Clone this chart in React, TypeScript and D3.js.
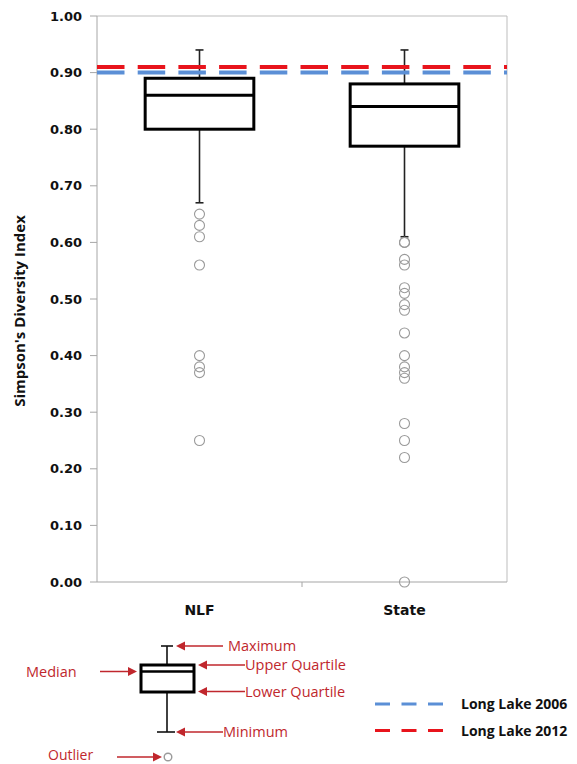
import React from "react";
import * as d3 from "d3";

const categories = ["NLF", "State"];
const mins = [0.67, 0.61];
const q1s = [0.8, 0.77];
const medians = [0.86, 0.84];
const q3s = [0.89, 0.88];
const maxs = [0.94, 0.94];
const outliersNLF = [0.65, 0.63, 0.61, 0.56, 0.4, 0.38, 0.37, 0.25];
const outliersState = [0.6, 0.6, 0.57, 0.56, 0.52, 0.51, 0.49, 0.48, 0.44, 0.4, 0.38, 0.37, 0.36, 0.28, 0.25, 0.22, 0.0];
const outliers = [outliersNLF, outliersState];
const refLabels = ["Long Lake 2006", "Long Lake 2012"];
const refValues = [0.9, 0.91];
const refColors = ["#5b8fd6", "#e8141c"];
const yTicks = [0, 0.1, 0.2, 0.3, 0.4, 0.5, 0.6, 0.7, 0.8, 0.9, 1.0];

const W = 577;
const H = 764;
const left = 97;
const right = 507;
const top = 16;
const bottom = 582;
const annRed = "#c0272d";
const axisGray = "#a6a6a6";

function Arrow({ x1, x2, y }: { x1: number; x2: number; y: number }) {
  const dir = x2 > x1 ? 1 : -1;
  const hl = 9;
  const hw = 4.5;
  return (
    <g>
      <line x1={x1} y1={y} x2={x2 - dir * hl} y2={y} stroke={annRed} strokeWidth={1.5} />
      <path d={`M${x2},${y} L${x2 - dir * hl},${y - hw} L${x2 - dir * hl},${y + hw} Z`} fill={annRed} />
    </g>
  );
}

export default function App() {
  const y = d3.scaleLinear().domain([0, 1]).range([bottom, top]);
  const x = d3.scaleBand<string>().domain(categories).range([left, right]).padding(0);
  const bw = x.bandwidth() * 0.53;
  const fmt = d3.format(".2f");
  const tickFont = "'DejaVu Sans', sans-serif";
  const annFont = "'Open Sans', sans-serif";

  return (
    <svg width={W} height={H} style={{ position: "absolute", left: 0, top: 0, background: "#fff" }}>
      <defs>
        <clipPath id="plotClip">
          <rect x={left} y={top - 5} width={right - left} height={bottom - top + 10} />
        </clipPath>
      </defs>
      <line x1={left} y1={top} x2={right} y2={top} stroke="#bdbdbd" strokeWidth={1} />
      <line x1={right} y1={top} x2={right} y2={bottom} stroke="#bdbdbd" strokeWidth={1} />
      <line x1={left} y1={top} x2={left} y2={bottom} stroke={axisGray} strokeWidth={1} />
      <line x1={left} y1={bottom} x2={right} y2={bottom} stroke={axisGray} strokeWidth={1.2} />
      {yTicks.map((t) => (
        <g key={t}>
          <line x1={left - 7} x2={left} y1={y(t)} y2={y(t)} stroke={axisGray} strokeWidth={1} />
          <text x={82} y={y(t)} dy="0.36em" textAnchor="end" fontFamily={tickFont} fontWeight="bold" fontSize={13} fill="#111">
            {fmt(t)}
          </text>
        </g>
      ))}
      {x.domain().slice(1).map((c) => (
        <line key={c} x1={x(c)!} x2={x(c)!} y1={bottom} y2={bottom + 5} stroke={axisGray} strokeWidth={1} />
      ))}
      {categories.map((c) => (
        <text key={c} x={x(c)! + x.bandwidth() / 2} y={615} textAnchor="middle" fontFamily={tickFont} fontWeight="bold" fontSize={14} fill="#111">
          {c}
        </text>
      ))}
      <text
        transform={`translate(25, 311) rotate(-90)`}
        textAnchor="middle"
        fontFamily={annFont}
        fontWeight="bold"
        fontSize={15}
        fill="#111"
      >
        Simpson's Diversity Index
      </text>

      {categories.map((c, i) => {
        const cx = x(c)! + x.bandwidth() / 2;
        return (
          <g key={c}>
            <line x1={cx} x2={cx} y1={y(maxs[i])} y2={y(q3s[i])} stroke="#222" strokeWidth={1.6} />
            <line x1={cx} x2={cx} y1={y(q1s[i])} y2={y(mins[i])} stroke="#222" strokeWidth={1.6} />
            <line x1={cx - 4} x2={cx + 4} y1={y(maxs[i])} y2={y(maxs[i])} stroke="#222" strokeWidth={1.6} />
            <line x1={cx - 4} x2={cx + 4} y1={y(mins[i])} y2={y(mins[i])} stroke="#222" strokeWidth={1.6} />
            <rect x={cx - bw / 2} y={y(q3s[i])} width={bw} height={y(q1s[i]) - y(q3s[i])} fill="#fff" stroke="#000" strokeWidth={3} />
            <line x1={cx - bw / 2} x2={cx + bw / 2} y1={y(medians[i])} y2={y(medians[i])} stroke="#000" strokeWidth={3} />
            {outliers[i].map((v, j) => (
              <circle key={j} cx={cx} cy={y(v)} r={5} fill="none" stroke="#9a9a9a" strokeWidth={1.1} />
            ))}
          </g>
        );
      })}

      <g clipPath="url(#plotClip)">
        {refValues.map((v, i) => (
          <line key={i} x1={left} x2={right} y1={y(v)} y2={y(v)} stroke={refColors[i]} strokeWidth={4} strokeDasharray="27.5 13.2" />
        ))}
      </g>

      <g>
        <line x1={167} x2={167} y1={646} y2={665} stroke="#111" strokeWidth={1.6} />
        <line x1={167} x2={167} y1={692} y2={732} stroke="#111" strokeWidth={1.6} />
        <line x1={161} x2={173} y1={646} y2={646} stroke="#111" strokeWidth={1.6} />
        <line x1={157} x2={175} y1={732} y2={732} stroke="#111" strokeWidth={1.6} />
        <rect x={141} y={665} width={53} height={27} fill="#fff" stroke="#000" strokeWidth={3} />
        <line x1={141} x2={194} y1={671.5} y2={671.5} stroke="#000" strokeWidth={2.5} />
        <circle cx={168} cy={757} r={3.8} fill="none" stroke="#9a9a9a" strokeWidth={1.4} />

        <Arrow x1={223} x2={176} y={646} />
        <Arrow x1={245} x2={198} y={665} />
        <Arrow x1={245} x2={198} y={691.5} />
        <Arrow x1={223} x2={176} y={732} />
        <Arrow x1={100} x2={137} y={671.5} />
        <Arrow x1={117} x2={162} y={757} />

        <g fontFamily={annFont} fontSize={14.5} fill={annRed}>
          <text x={228} y={646} dy="0.35em">Maximum</text>
          <text x={245} y={665} dy="0.35em">Upper Quartile</text>
          <text x={245} y={691.5} dy="0.35em">Lower Quartile</text>
          <text x={223} y={732} dy="0.35em">Minimum</text>
          <text x={26} y={672} dy="0.35em">Median</text>
          <text x={48} y={760} fontSize={14}>Outlier</text>
        </g>
      </g>

      {refLabels.map((lab, i) => {
        const ly = i === 0 ? 704 : 730.5;
        return (
          <g key={lab}>
            <line x1={375} x2={443} y1={ly} y2={ly} stroke={refColors[i]} strokeWidth={3} strokeDasharray="15 11.5" />
            <text x={461} y={ly} dy="0.36em" fontFamily={annFont} fontWeight="bold" fontSize={14} fill="#111">
              {lab}
            </text>
          </g>
        );
      })}
    </svg>
  );
}
